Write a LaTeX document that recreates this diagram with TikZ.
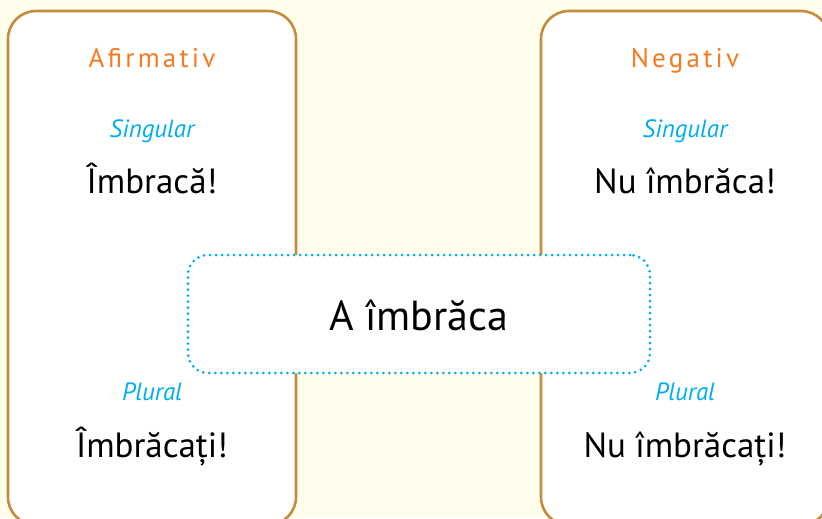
\documentclass[tikz,border=0pt]{standalone}
\usepackage{fontspec}
\setmainfont{PT Sans}
\newfontfamily\spacedfont[LetterSpace=12]{PT Sans}
\usetikzlibrary{positioning}
\definecolor{cream}{HTML}{FFFDEC}
\definecolor{frame}{HTML}{C48C3C}
\definecolor{hdr}{HTML}{F47B20}
\definecolor{sky}{HTML}{00AEEF}

\begin{document}
\begin{tikzpicture}[
    x=0.5pt, y=-0.5pt,
    panel/.style={draw=frame, line width=1.3pt, fill=white, rounded corners=14pt, minimum width=144pt, minimum height=257pt, inner sep=0pt},
    hub/.style={draw=sky, line width=1.5pt, line cap=round, dash pattern=on 0pt off 3pt, fill=white, rounded corners=10pt, minimum width=231pt, minimum height=59pt, inner sep=0pt},
    head/.style={anchor=base, text=hdr, font=\spacedfont\fontsize{13.5}{15}\selectfont},
    num/.style={anchor=base, text=sky, font=\itshape\fontsize{12.5}{14}\selectfont},
    form/.style={anchor=base, font=\fontsize{17.5}{20}\selectfont},
]

% ── Canvas ──
\useasboundingbox (0,0) rectangle (822,518);
\clip (0,0) rectangle (822,518);
\fill[cream] (0,0) rectangle (822,518);

% ── Panels ──
\node[panel] (afpanel) at (152,268) {};
\node[panel] (negpanel) at (685,268) {};

% ── Affirmative side ──
\node[head] (afhead) at (152,68) {Afirmativ};
\node[num] (afsg) at (152,138) {Singular};
\node[form] (afsgform) at (152,193) {Îmbracă!};
\node[num] (afpl) at (152,400) {Plural};
\node[form] (afplform) at (152,457) {Îmbrăcați!};

% ── Negative side ──
\node[head] (neghead) at (685,68) {Negativ};
\node[num] (negsg) at (685,138) {Singular};
\node[form] (negsgform) at (685,193) {Nu îmbrăca!};
\node[num] (negpl) at (685,400) {Plural};
\node[form] (negplform) at (685,457) {Nu îmbrăcați!};

% ── Verb in the middle ──
\node[hub] (verbbox) at (419,314) {};
\node[form, font=\fontsize{21}{24}\selectfont] (verb) at (419,330) {A îmbrăca};

\end{tikzpicture}
\end{document}
